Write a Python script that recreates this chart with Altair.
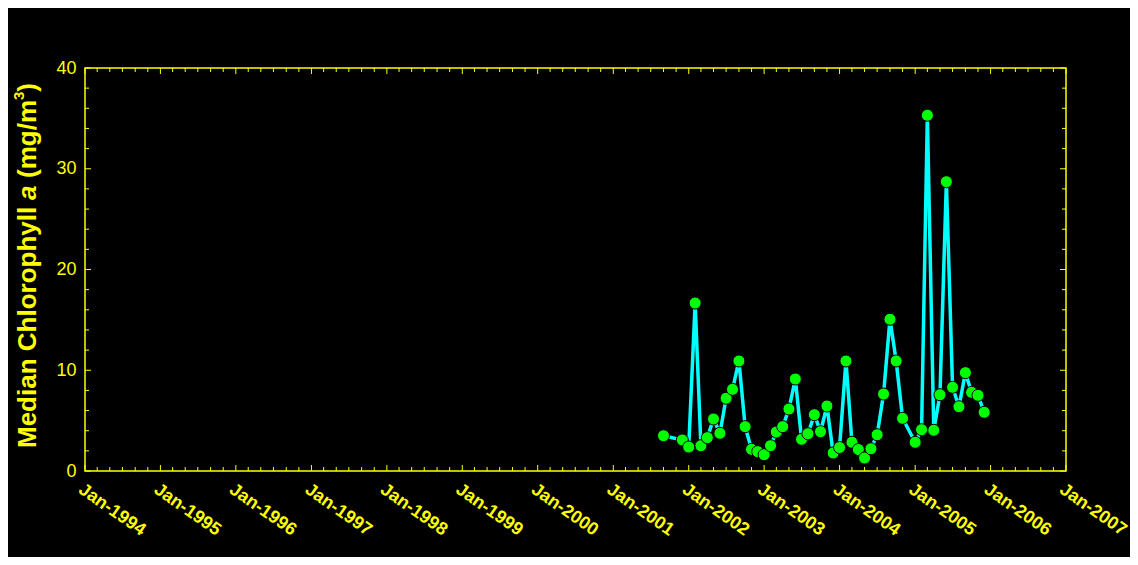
import altair as alt
import pandas as pd

# ---- data ----
dates = [
    "2001/09/01", "2001/12/01",
    "2002/01/01", "2002/02/01", "2002/03/01", "2002/04/01", "2002/05/01", "2002/06/01",
    "2002/07/01", "2002/08/01", "2002/09/01", "2002/10/01", "2002/11/01", "2002/12/01",
    "2003/01/01", "2003/02/01", "2003/03/01", "2003/04/01", "2003/05/01", "2003/06/01",
    "2003/07/01", "2003/08/01", "2003/09/01", "2003/10/01", "2003/11/01", "2003/12/01",
    "2004/01/01", "2004/02/01", "2004/03/01", "2004/04/01", "2004/05/01", "2004/06/01",
    "2004/07/01", "2004/08/01", "2004/09/01", "2004/10/01", "2004/11/01",
    "2005/01/01", "2005/02/01", "2005/03/01", "2005/04/01", "2005/05/01", "2005/06/01",
    "2005/07/01", "2005/08/01", "2005/09/01", "2005/10/01", "2005/11/01", "2005/12/01",
]
chl = [
    3.50, 3.08,
    2.38, 16.67, 2.51, 3.31, 5.16, 3.74,
    7.22, 8.11, 10.92, 4.40, 2.15, 1.92,
    1.62, 2.51, 3.87, 4.40, 6.15, 9.13,
    3.15, 3.70, 5.59, 3.90, 6.45, 1.79,
    2.33, 10.92, 2.85, 2.13, 1.29, 2.21,
    3.60, 7.64, 15.06, 10.92, 5.23,
    2.85, 4.10, 35.31, 4.04, 7.57, 28.71,
    8.31, 6.38, 9.76, 7.81, 7.51, 5.83,
]

years = list(range(1994, 2008))
y_major = [0, 10, 20, 30, 40]
y_minor = [v for v in range(2, 40, 2) if v % 10 != 0]
x_major = [f"{y}/01/01" for y in years]
x_minor = [f"{y}/{m:02d}/01" for y in years[:-1] for m in (3, 5, 7, 9, 11)]

df = pd.DataFrame({"date": dates, "chl": chl})

YEL = "#ffff00"
FONT = "Liberation Sans"
W, H = 981, 403

xscale = alt.Scale(domain=[alt.DateTime(year=1994, month=1, date=1),
                           alt.DateTime(year=2007, month=1, date=1)])
yscale = alt.Scale(domain=[0, 40], nice=False)

xaxis = alt.Axis(
    values=[alt.DateTime(year=y, month=1, date=1) for y in years],
    format="%b-%Y", labelAngle=35, labelAlign="left", labelBaseline="top",
    labelPadding=9, labelFontSize=18, labelFontWeight="bold", labelColor=YEL,
    labelFont=FONT, domain=False, ticks=False, grid=False, title=None,
    labelOverlap=False, labelFlush=False,
)
yaxis = alt.Axis(
    values=y_major, labelPadding=9, labelFontSize=18, labelColor=YEL,
    labelFont=FONT, domain=False, ticks=False, grid=False, title=None,
)

base = alt.Chart(df)
line = base.mark_line(color="#00ffff", strokeWidth=3.5).encode(
    x=alt.X("date:T", scale=xscale, axis=xaxis),
    y=alt.Y("chl:Q", scale=yscale, axis=yaxis),
)
pts = base.mark_circle(size=145, color="#00ff00", opacity=1, stroke="black",
                       strokeWidth=1).encode(
    x=alt.X("date:T", scale=xscale, axis=xaxis),
    y=alt.Y("chl:Q", scale=yscale, axis=yaxis),
)

def xticks(vals, length):
    d = alt.Chart(pd.DataFrame({"t": vals}))
    bot = d.mark_rule(color=YEL, strokeWidth=1).encode(
        x=alt.X("t:T", scale=xscale, axis=xaxis),
        y=alt.value(H), y2=alt.value(H - length))
    top = d.mark_rule(color=YEL, strokeWidth=1).encode(
        x=alt.X("t:T", scale=xscale, axis=xaxis),
        y=alt.value(0), y2=alt.value(length))
    return [bot, top]

def yticks(vals, length):
    d = alt.Chart(pd.DataFrame({"v": vals}))
    left = d.mark_rule(color=YEL, strokeWidth=1).encode(
        y=alt.Y("v:Q", scale=yscale, axis=yaxis),
        x=alt.value(0), x2=alt.value(length))
    right = d.mark_rule(color=YEL, strokeWidth=1).encode(
        y=alt.Y("v:Q", scale=yscale, axis=yaxis),
        x=alt.value(W), x2=alt.value(W - length))
    return [left, right]

one = alt.Data(values=[{"k": 1}])

def seg(txt, y, x=-49, size=26, style="normal"):
    return alt.Chart(one).mark_text(
        text=txt, angle=270, align="left", baseline="alphabetic",
        font=FONT, fontSize=size, fontWeight="bold", fontStyle=style, color=YEL,
    ).encode(x=alt.value(x), y=alt.value(y))

title_parts = [
    seg("Median Chlorophyll", 380),
    seg("a", 132, style="italic"),
    seg("(mg/m", 110),
    seg("3", 32, x=-61, size=15),
    seg(")", 23.7),
]

layers = ([line, pts] + xticks(x_major, 6) + xticks(x_minor, 4) +
          yticks(y_major, 6) + yticks(y_minor, 4) + title_parts)

chart = alt.layer(*layers).properties(
    width=W, height=H,
    autosize=alt.AutoSizeParams(type="none"),
    padding={"left": 77, "top": 60, "right": 64, "bottom": 86},
    background="black",
).configure_view(stroke=YEL, strokeWidth=1.5, fill="black")

chart.save("out.html", embed_options={"renderer": "svg", "actions": False})
